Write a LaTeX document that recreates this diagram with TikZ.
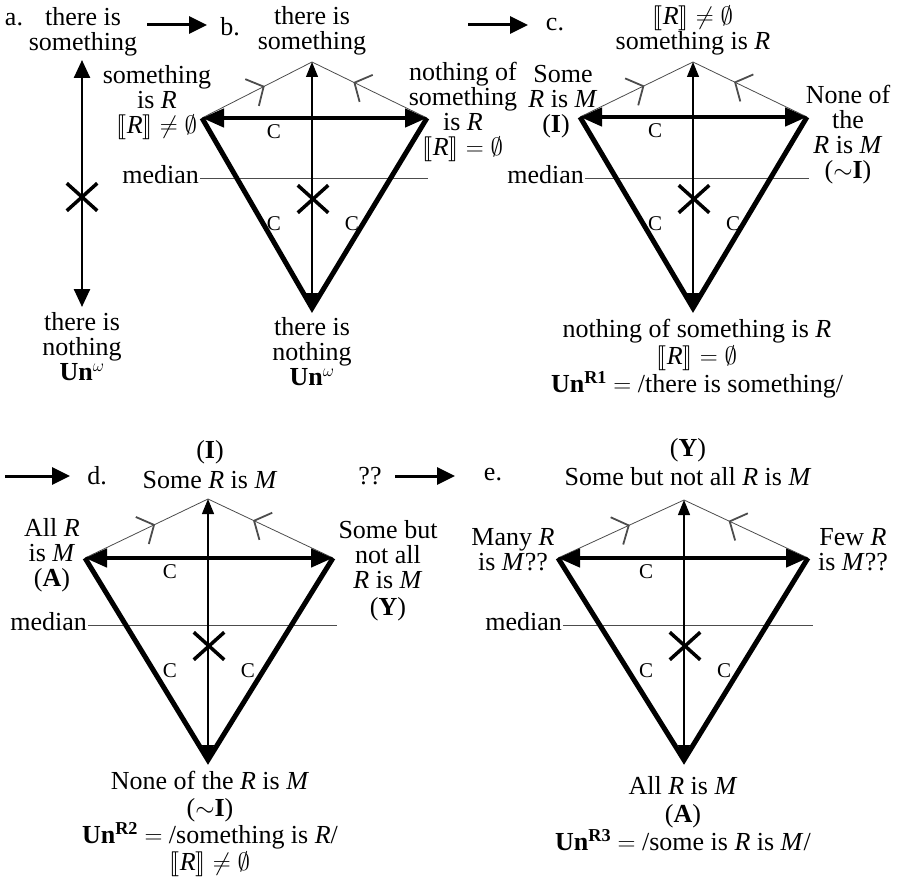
\documentclass[tikz,border=0pt]{standalone}
\usepackage{fontspec}
\usepackage{stmaryrd}
\setmainfont{Liberation Serif}
\usetikzlibrary{arrows.meta}
\usetikzlibrary{decorations.markings}
\usetikzlibrary{shapes.misc}
\tikzset{
  kmtext/.style={font=\fontsize{26}{25}\selectfont, align=center, inner sep=1pt},
  kmfoot/.style={kmtext, font=\fontsize{26}{27}\selectfont},
  kmsmall/.style={font=\fontsize{21}{21}\selectfont, inner sep=0pt},
  kmthin/.style={draw=black!70, line width=0.8pt},
  kmthick/.style={line width=5pt, line join=miter},
  kmbar/.style={{Triangle[length=22pt,width=18pt]}-{Triangle[length=22pt,width=18pt]},
    line width=4.5pt},
  kmaxis/.style={{Triangle[length=15pt,width=12pt]}-{Triangle[length=15pt,width=12pt]},
    line width=1.2pt},
  kmpole/.style={{Triangle[length=18pt,width=16pt]}-{Triangle[length=18pt,width=16pt]},
    line width=2.5pt},
  kmflow/.style={-{Triangle[length=18pt,width=17pt]}, line width=3pt},
  kmmedian/.style={draw=black!70, line width=1pt},
  kmcross/.style={draw, cross out, minimum width=27pt, minimum height=24pt,
    inner sep=0pt, line width=3.5pt},
  kmtick/.style={postaction={decorate}, decoration={markings,
    mark=at position #1 with
      {\arrow{Straight Barb[length=13pt,width=30pt,line width=1.8pt]}}}},
}

\begin{document}
\begin{tikzpicture}[x=1pt, y=1pt]
\useasboundingbox (0,0) rectangle (898,-883);

% Panel a: the bare pole.
\node[kmtext] (a-tag) at (14,-20) {a.};
\node[kmtext] (a-top) at (83,-32) {there is\\something};
\node[kmtext] (a-bottom) at (82,-347) {there is\\nothing\\\textbf{Un}$^{\omega}$};
\coordinate (a-p0) at (82,-307);
\coordinate (a-p1) at (82,-60);
\draw[kmpole] (a-p0) -- (a-p1);
\node[kmcross] (a-x) at (82,-197) {};

% The four kites.
\foreach \k/\cx/\ty/\sy/\by/\lx/\rx/\my/\ms/\me in {
    b/312/62/118/308/202/427/178/200/428,
    c/693/62/117/308/580/807/178/585/809,
    d/208/499/558/760/85/333/625/88/337,
    e/684/500/558/760/558/808/625/563/813} {
  \coordinate (\k-T) at (\cx,-\ty);
  \coordinate (\k-L) at (\lx,-\sy);
  \coordinate (\k-R) at (\rx,-\sy);
  \coordinate (\k-B) at (\cx,-\by);
  \coordinate (\k-m0) at (\ms,-\my);
  \coordinate (\k-m1) at (\me,-\my);
  \draw[kmmedian] (\k-m0) -- (\k-m1);
  \node[kmtext, anchor=mid east, yshift=-3pt] (\k-median) at (\k-m0) {median};
  \draw[kmthin, kmtick=0.57] (\k-L) -- (\k-T);
  \draw[kmthin, kmtick=0.64] (\k-R) -- (\k-T);
  \draw[kmthick] (\k-L) -- (\k-B) -- (\k-R);
  \draw[kmbar] (\k-L) -- (\k-R);
  \draw[kmaxis] (\k-B) -- (\k-T);
  \node[kmcross] (\k-x) at ({\cx+1},{-\my-21}) {};
  \node[kmsmall] (\k-c0) at ({\cx-38},{-\sy-14}) {C};
  \node[kmsmall] (\k-c1) at ({\cx-38},{-\my-46}) {C};
  \node[kmsmall] (\k-c2) at ({\cx+40},{-\my-46}) {C};
}

% Panel b.
\node[kmtext] (b-tag) at (230,-27) {b.};
\node[kmtext] (b-top) at (312,-31) {there is\\something};
\node[kmtext] (b-left) at (157,-103)
  {something\\is \textit{R}\\$\llbracket$\textit{R}$\rrbracket\neq\emptyset$};
\node[kmtext] (b-right) at (463,-112)
  {nothing of\\something\\is \textit{R}\\$\llbracket$\textit{R}$\rrbracket=\emptyset$};
\node[kmtext] (b-bottom) at (312,-352) {there is\\nothing\\\textbf{Un}$^{\omega}$};

% Panel c.
\node[kmtext] (c-tag) at (555,-25) {c.};
\node[kmtext] (c-top) at (693,-30)
  {$\llbracket$\textit{R}$\rrbracket\neq\emptyset$\\something is \textit{R}};
\node[kmtext] (c-left) at (563,-87) {Some\\\textit{R} is \textit{M}};
\node[kmtext] (c-I) at (556,-126) {(\textbf{I})};
\node[kmtext] (c-right) at (848,-135)
  {None of\\the\\\textit{R} is \textit{M}\\($\sim$\textbf{I})};
\node[kmfoot] (c-bottom) at (697,-359)
  {nothing of something is \textit{R}\\$\llbracket$\textit{R}$\rrbracket=\emptyset$\\
   \textbf{Un}\textsuperscript{\textbf{R1}} $=$ /there is something/};

% Panel d.
\node[kmtext] (d-tag) at (97,-476) {d.};
\node[kmtext] (d-I) at (210,-452) {(\textbf{I})};
\node[kmtext] (d-top) at (210,-480) {Some \textit{R} is \textit{M}};
\node[kmtext] (d-left) at (52,-555) {All \textit{R}\\is \textit{M}\\(\textbf{A})};
\node[kmtext] (d-right) at (388,-555) {Some but\\not all\\\textit{R} is \textit{M}};
\node[kmtext] (d-Y) at (388,-609) {(\textbf{Y})};
\node[kmtext] (d-qq) at (370,-476) {??};
\node[kmfoot] (d-bottom) at (210,-824)
  {None of the \textit{R} is \textit{M}\\($\sim$\textbf{I})\\
   \textbf{Un}\textsuperscript{\textbf{R2}} $=$ /something is \textit{R}/\\
   $\llbracket$\textit{R}$\rrbracket\neq\emptyset$};

% Panel e.
\node[kmtext] (e-tag) at (493,-475) {e.};
\node[kmtext] (e-Y) at (688,-450) {(\textbf{Y})};
\node[kmtext] (e-top) at (688,-477) {Some but not all \textit{R} is \textit{M}};
\node[kmtext] (e-left) at (513,-550) {Many \textit{R}\\is \textit{M}??};
\node[kmtext] (e-right) at (853,-550) {Few \textit{R}\\is \textit{M}??};
\node[kmfoot, font=\fontsize{26}{28}\selectfont] (e-bottom) at (683,-814)
  {All \textit{R} is \textit{M}\\(\textbf{A})\\
   \textbf{Un}\textsuperscript{\textbf{R3}} $=$ /some is \textit{R} is \textit{M}/};

% Steps from one panel to the next.
\coordinate (ab-s) at (147,-25);
\coordinate (ab-e) at (207,-25);
\coordinate (bc-s) at (468,-25);
\coordinate (bc-e) at (528,-25);
\coordinate (cd-s) at (5,-476);
\coordinate (cd-e) at (70,-476);
\coordinate (de-s) at (395,-476);
\coordinate (de-e) at (455,-476);
\draw[kmflow] (ab-s) -- (ab-e);
\draw[kmflow] (bc-s) -- (bc-e);
\draw[kmflow] (cd-s) -- (cd-e);
\draw[kmflow] (de-s) -- (de-e);

\end{tikzpicture}
\end{document}
